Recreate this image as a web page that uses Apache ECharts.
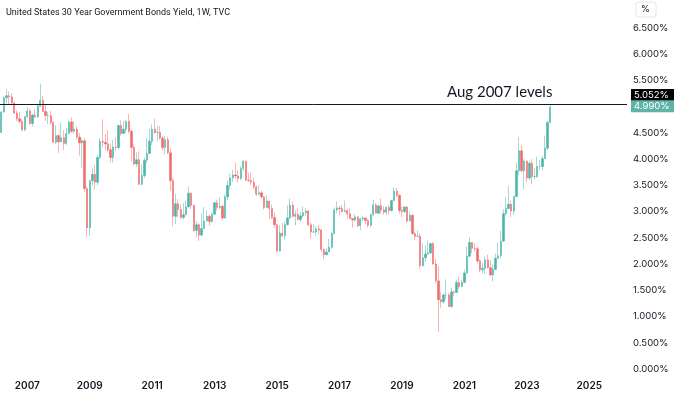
<!DOCTYPE html>
<html><head><meta charset="utf-8">
<script src="https://cdn.jsdelivr.net/npm/echarts@6/dist/echarts.min.js"></script>
<style>html,body{margin:0;padding:0;background:#fff}#c{width:680px;height:394px}</style>
</head><body><div id="c"></div>
<script>
// Monthly candles [open, close, low, high] in %
const y2006 = [[4.51,4.90,4.50,4.92],[4.90,5.17,4.88,5.20],[5.17,5.21,5.06,5.33],[5.21,5.19,5.05,5.29],[5.19,5.07,5.03,5.26],[5.07,4.88,4.86,5.10],[4.88,4.77,4.72,4.93],[4.77,4.72,4.68,4.90],[4.72,4.56,4.53,4.76],[4.56,4.81,4.53,4.83]];
const y2007 = [[4.81,4.92,4.78,4.99],[4.92,4.68,4.65,4.96],[4.68,4.84,4.62,4.87],[4.84,4.81,4.78,4.95],[4.81,5.01,4.78,5.05],[5.01,5.12,5.00,5.44],[5.12,4.91,4.90,5.20],[4.91,4.83,4.73,5.05],[4.83,4.83,4.67,4.90],[4.83,4.70,4.66,4.92],[4.70,4.32,4.30,4.72],[4.32,4.45,4.28,4.65]];
const y2008 = [[4.45,4.33,4.12,4.47],[4.33,4.41,4.32,4.70],[4.41,4.30,4.17,4.55],[4.30,4.49,4.27,4.60],[4.49,4.71,4.47,4.74],[4.71,4.53,4.50,4.80],[4.53,4.57,4.49,4.72],[4.57,4.42,4.37,4.63],[4.42,4.31,4.07,4.50],[4.31,4.35,3.84,4.40],[4.35,3.44,3.38,4.40],[3.44,2.69,2.52,3.47]];
const y2009 = [[2.69,3.59,2.53,3.61],[3.59,3.71,3.50,3.82],[3.71,3.56,3.42,3.88],[3.56,4.03,3.50,4.08],[4.03,4.34,4.00,4.40],[4.34,4.32,4.23,4.76],[4.32,4.29,4.16,4.48],[4.29,4.18,4.13,4.55],[4.18,4.03,3.94,4.30],[4.03,4.23,3.93,4.37],[4.23,4.22,4.16,4.42],[4.22,4.64,4.18,4.66]];
const y2010 = [[4.64,4.49,4.45,4.74],[4.49,4.57,4.49,4.73],[4.57,4.72,4.50,4.74],[4.72,4.53,4.49,4.86],[4.53,4.22,3.96,4.56],[4.22,3.91,3.88,4.28],[3.91,3.99,3.85,4.13],[3.99,3.52,3.50,4.15],[3.52,3.69,3.50,3.90],[3.69,3.98,3.64,4.03],[3.98,4.11,3.92,4.40],[4.11,4.34,4.10,4.58]];
const y2011 = [[4.34,4.57,4.27,4.66],[4.57,4.51,4.48,4.77],[4.51,4.51,4.34,4.64],[4.51,4.40,4.37,4.63],[4.40,4.22,4.17,4.44],[4.22,4.37,4.09,4.44],[4.37,4.12,4.10,4.43],[4.12,3.59,3.39,4.20],[3.59,2.91,2.72,3.63],[2.91,3.15,2.76,3.34],[3.15,3.04,2.89,3.24],[3.04,2.89,2.86,3.14]];
const y2012 = [[2.89,2.94,2.85,3.16],[2.94,3.09,2.93,3.20],[3.09,3.35,3.08,3.48],[3.35,3.12,3.05,3.37],[3.12,2.64,2.62,3.14],[2.64,2.75,2.51,2.82],[2.75,2.55,2.44,2.78],[2.55,2.68,2.55,2.97],[2.68,2.82,2.67,3.09],[2.82,2.91,2.82,3.03],[2.91,2.81,2.73,2.94],[2.81,2.95,2.79,2.98]];
const y2013 = [[2.95,3.17,2.95,3.19],[3.17,3.08,3.02,3.23],[3.08,3.10,3.05,3.27],[3.10,2.88,2.83,3.13],[2.88,3.28,2.86,3.33],[3.28,3.50,3.22,3.60],[3.50,3.64,3.43,3.72],[3.64,3.70,3.57,3.80],[3.70,3.68,3.62,3.94],[3.68,3.63,3.55,3.78],[3.63,3.82,3.60,3.87],[3.82,3.96,3.77,3.98]];
const y2014 = [[3.96,3.60,3.59,3.97],[3.60,3.59,3.57,3.74],[3.59,3.56,3.51,3.75],[3.56,3.47,3.42,3.64],[3.47,3.33,3.30,3.50],[3.33,3.36,3.32,3.50],[3.36,3.28,3.24,3.40],[3.28,3.08,3.04,3.30],[3.08,3.20,3.07,3.32],[3.20,3.06,2.86,3.21],[3.06,2.89,2.86,3.14],[2.89,2.75,2.69,2.99]];
const y2015 = [[2.75,2.25,2.22,2.76],[2.25,2.59,2.24,2.74],[2.59,2.54,2.51,2.78],[2.54,2.75,2.47,2.81],[2.75,2.88,2.74,3.12],[2.88,3.12,2.85,3.25],[3.12,2.91,2.89,3.19],[2.91,2.95,2.74,3.02],[2.95,2.85,2.83,3.07],[2.85,2.92,2.80,2.99],[2.92,2.98,2.89,3.10],[2.98,3.01,2.93,3.07]];
const y2016 = [[3.01,2.75,2.72,3.03],[2.75,2.61,2.50,2.80],[2.61,2.61,2.60,2.76],[2.61,2.67,2.54,2.72],[2.67,2.65,2.58,2.74],[2.65,2.28,2.23,2.67],[2.28,2.18,2.09,2.30],[2.18,2.23,2.16,2.31],[2.23,2.32,2.23,2.48],[2.32,2.58,2.29,2.61],[2.58,3.03,2.57,3.08],[3.03,3.07,2.97,3.20]];
const y2017 = [[3.07,3.06,2.93,3.11],[3.06,3.00,2.98,3.13],[3.00,3.02,2.99,3.21],[3.02,2.96,2.86,3.04],[2.96,2.87,2.86,3.06],[2.87,2.84,2.70,2.87],[2.84,2.90,2.80,2.95],[2.90,2.73,2.70,2.90],[2.73,2.86,2.65,2.88],[2.86,2.88,2.82,2.92],[2.88,2.83,2.76,2.88],[2.83,2.74,2.70,2.85]];
const y2018 = [[2.74,2.94,2.70,2.96],[2.94,3.13,2.91,3.22],[3.13,2.97,2.96,3.16],[2.97,3.11,2.96,3.12],[3.11,3.03,2.96,3.25],[3.03,2.99,2.94,3.10],[2.99,3.08,2.93,3.10],[3.08,3.02,2.95,3.13],[3.02,3.21,3.00,3.22],[3.21,3.39,3.20,3.46],[3.39,3.31,3.27,3.45],[3.31,3.02,2.96,3.33]];
const y2019 = [[3.02,3.00,2.89,3.10],[3.00,3.09,2.97,3.10],[3.09,2.82,2.78,3.10],[2.82,2.93,2.82,3.00],[2.93,2.58,2.56,2.95],[2.58,2.53,2.46,2.62],[2.53,2.53,2.52,2.64],[2.53,1.97,1.91,2.59],[1.97,2.12,1.95,2.40],[2.12,2.19,2.04,2.36],[2.19,2.21,2.18,2.45],[2.21,2.39,2.20,2.40]];
const y2020 = [[2.39,2.00,1.99,2.42],[2.00,1.68,1.63,2.10],[1.68,1.32,0.70,1.96],[1.32,1.28,1.17,1.46],[1.28,1.41,1.25,1.45],[1.41,1.41,1.33,1.71],[1.41,1.19,1.18,1.45],[1.19,1.47,1.17,1.55],[1.47,1.46,1.38,1.49],[1.46,1.65,1.45,1.70],[1.65,1.57,1.52,1.76],[1.57,1.65,1.57,1.70]];
const y2021 = [[1.65,1.83,1.64,1.89],[1.83,2.15,1.82,2.34],[2.15,2.41,2.13,2.51],[2.41,2.30,2.21,2.42],[2.30,2.29,2.24,2.40],[2.29,2.06,2.01,2.32],[2.06,1.89,1.85,2.09],[1.89,1.92,1.83,2.02],[1.92,2.08,1.81,2.14],[2.08,1.93,1.91,2.18],[1.93,1.79,1.78,2.07],[1.79,1.90,1.67,1.99]];
const y2022 = [[1.90,2.11,1.88,2.20],[2.11,2.16,2.10,2.41],[2.16,2.44,2.11,2.64],[2.44,2.96,2.42,3.04],[2.96,3.06,2.93,3.27],[3.06,3.14,3.05,3.49],[3.14,3.01,2.90,3.21],[3.01,3.29,2.94,3.30],[3.29,3.78,3.28,3.93],[3.78,4.16,3.70,4.42],[4.16,3.78,3.75,4.28],[3.78,3.96,3.42,4.00]];
const y2023 = [[3.96,3.64,3.56,3.98],[3.64,3.92,3.60,3.97],[3.92,3.67,3.52,4.00],[3.67,3.67,3.61,3.83],[3.67,3.86,3.64,4.05],[3.86,3.86,3.79,3.98],[3.86,4.01,3.78,4.07],[4.01,4.21,4.00,4.45],[4.21,4.70,4.17,4.73],[4.70,4.99,4.69,5.03]];

const firstMonth = [2006, 3];   // first category (year, month)
const monthCount = 241;         // axis runs to Mar 2026
const refLevel = 5.052;         // Aug 2007 level line
const lastPrice = 4.990;
const hiddenTick = 5.0;         // axis tick covered by the price labels
const titleText = 'United States 30 Year Government Bonds Yield, 1W, TVC';
const noteText = 'Aug 2007 levels';
const yTicks = {min: 0, max: 6.5, step: 0.5};

const categories = [];
for (let i = 0; i < monthCount; i++) {
  const m = firstMonth[1] - 1 + i;
  categories.push((firstMonth[0] + Math.floor(m / 12)) + '-' + String(m % 12 + 1).padStart(2, '0'));
}
const candles = [].concat(y2006,y2007,y2008,y2009,y2010,y2011,y2012,y2013,y2014,y2015,y2016,y2017,y2018,y2019,y2020,y2021,y2022,y2023);
while (candles.length < monthCount) candles.push('-');

const UP = '#2aa89b', DOWN = '#ef5350', INK = '#131722';
const FONT = 'Inter, "Noto Sans", sans-serif';

const chart = echarts.init(document.getElementById('c'), null, {renderer: 'canvas'});
chart.setOption({
  animation: false,
  backgroundColor: '#fff',
  title: {text: titleText, left: 1, top: 3, textStyle: {fontSize: 9, fontWeight: 'normal', color: INK, fontFamily: 'Roboto, sans-serif'}},
  grid: {left: 0, right: 53, top: 28, bottom: 25, containLabel: false},
  xAxis: {
    type: 'category', data: categories, boundaryGap: true,
    axisLine: {show: false}, axisTick: {show: false}, splitLine: {show: false},
    axisLabel: {
      interval: (i, v) => v.endsWith('-01') && (+v.slice(0, 4)) % 2 === 1,
      formatter: v => v.slice(0, 4),
      margin: 12, fontSize: 10, fontWeight: 600, color: INK, fontFamily: FONT
    }
  },
  yAxis: {
    type: 'value', position: 'right', min: yTicks.min, max: yTicks.max, interval: yTicks.step,
    axisLine: {show: false}, axisTick: {show: false}, splitLine: {show: false},
    axisLabel: {formatter: v => Math.abs(v - hiddenTick) < 1e-9 ? '' : v.toFixed(3) + '%', margin: 6, fontSize: 9.5, color: INK, fontFamily: FONT}
  },
  series: [{
    type: 'candlestick', data: candles, barWidth: 1.8,
    itemStyle: {color: UP, color0: DOWN, borderColor: UP, borderColor0: DOWN, borderWidth: 0.5, opacity: 0.85},
    markLine: {
      silent: true, symbol: 'none', label: {show: false},
      lineStyle: {color: INK, width: 1, type: 'solid'},
      data: [{yAxis: refLevel}]
    }
  }]
});

const yRef = chart.convertToPixel({yAxisIndex: 0}, refLevel);
const yLast = chart.convertToPixel({yAxisIndex: 0}, lastPrice);
chart.setOption({
  graphic: [
    {type: 'text', z: 100, left: 447, top: yRef - 19, style: {text: noteText, font: '400 15px Lato, sans-serif', fill: INK}},
    {type: 'rect', z: 100, shape: {x: 631, y: yRef - 15, width: 43, height: 12}, style: {fill: '#000'}},
    {type: 'text', z: 101, x: 634, y: yRef - 9, style: {text: refLevel.toFixed(3) + '%', fill: '#fff', font: '9.5px Inter, sans-serif', textVerticalAlign: 'middle'}},
    {type: 'rect', z: 100, shape: {x: 631, y: yLast - 7, width: 43, height: 12}, style: {fill: '#5fb3a8'}},
    {type: 'text', z: 101, x: 634, y: yLast - 1, style: {text: lastPrice.toFixed(3) + '%', fill: '#fff', font: '9.5px Inter, sans-serif', textVerticalAlign: 'middle'}},
    {type: 'rect', z: 100, shape: {x: 636, y: 2, width: 20, height: 15, r: 3}, style: {fill: '#fff', stroke: '#e6e6e6', lineWidth: 1}},
    {type: 'text', z: 101, x: 641, y: 9.5, style: {text: '%', fill: INK, font: '9px Inter, sans-serif', textVerticalAlign: 'middle'}}
  ]
});
</script></body></html>
